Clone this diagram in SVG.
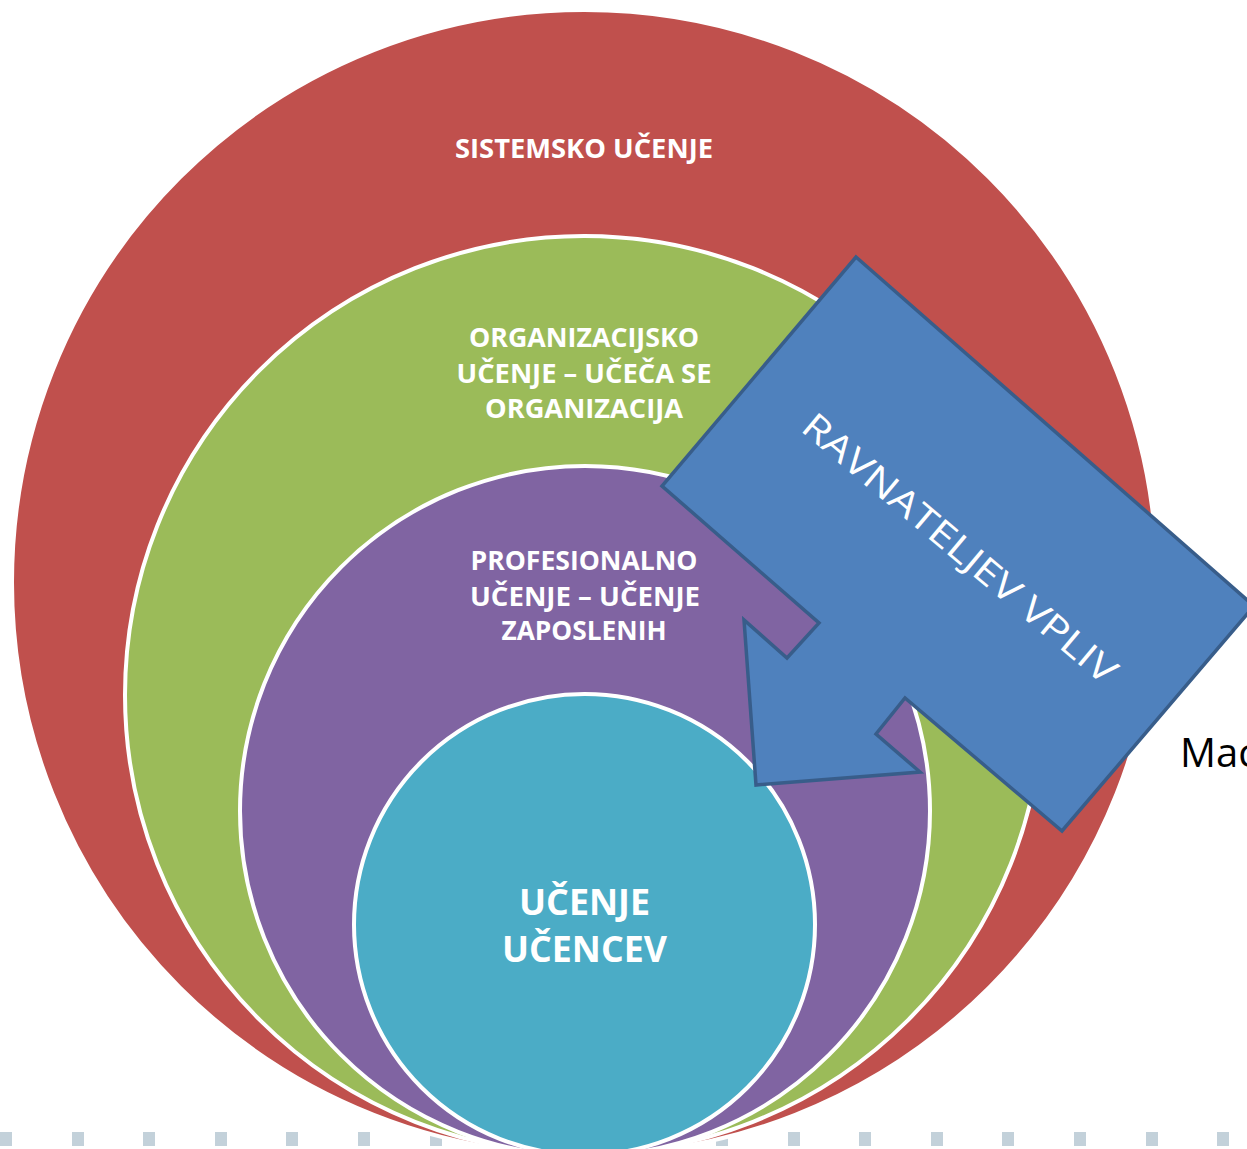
<svg xmlns="http://www.w3.org/2000/svg" width="1247" height="1149" viewBox="0 0 1247 1149">
<style>
.sq{fill:#c3d1da}
.ring{stroke:#ffffff;stroke-width:4}
.lbl{font-family:"Open Sans","Liberation Sans",sans-serif;font-weight:bold;fill:#ffffff;text-anchor:middle}
</style>
<rect width="1247" height="1149" fill="#ffffff"/>
<g id="dots">
<rect class="sq" x="0" y="1132" width="12" height="14"/>
<rect class="sq" x="72" y="1132" width="12" height="14"/>
<rect class="sq" x="143" y="1132" width="12" height="14"/>
<rect class="sq" x="215" y="1132" width="12" height="14"/>
<rect class="sq" x="286" y="1132" width="12" height="14"/>
<rect class="sq" x="358" y="1132" width="12" height="14"/>
<rect class="sq" x="430" y="1132" width="12" height="14"/>
<rect class="sq" x="716" y="1132" width="12" height="14"/>
<rect class="sq" x="788" y="1132" width="12" height="14"/>
<rect class="sq" x="859" y="1132" width="12" height="14"/>
<rect class="sq" x="931" y="1132" width="12" height="14"/>
<rect class="sq" x="1002" y="1132" width="12" height="14"/>
<rect class="sq" x="1074" y="1132" width="12" height="14"/>
<rect class="sq" x="1146" y="1132" width="12" height="14"/>
<rect class="sq" x="1217" y="1132" width="12" height="14"/>
</g>
<g id="sistemsko">
<circle class="ring" cx="584.5" cy="582.5" r="572.5" fill="#c0504d"/>
<text class="lbl" x="584" y="158" font-size="26" textLength="258" lengthAdjust="spacingAndGlyphs">SISTEMSKO UČENJE</text>
</g>
<g id="organizacijsko">
<circle class="ring" cx="584" cy="695" r="459" fill="#9bbb59"/>
<text class="lbl" x="584" y="347" font-size="26" textLength="230" lengthAdjust="spacingAndGlyphs">ORGANIZACIJSKO</text>
<text class="lbl" x="584" y="383" font-size="26" textLength="255" lengthAdjust="spacingAndGlyphs">UČENJE – UČEČA SE</text>
<text class="lbl" x="584" y="418" font-size="26" textLength="198" lengthAdjust="spacingAndGlyphs">ORGANIZACIJA</text>
</g>
<g id="profesionalno">
<circle class="ring" cx="585" cy="811" r="345" fill="#8064a2"/>
<text class="lbl" x="584" y="570" font-size="26" textLength="227" lengthAdjust="spacingAndGlyphs">PROFESIONALNO</text>
<text class="lbl" x="585" y="606" font-size="26" textLength="230" lengthAdjust="spacingAndGlyphs">UČENJE – UČENJE</text>
<text class="lbl" x="584" y="640" font-size="26" textLength="165" lengthAdjust="spacingAndGlyphs">ZAPOSLENIH</text>
</g>
<g id="ucenje-ucencev">
<circle class="ring" cx="584.5" cy="924.5" r="230.5" fill="#4bacc6"/>
<text class="lbl" x="584.5" y="915" font-size="36" textLength="131" lengthAdjust="spacingAndGlyphs">UČENJE</text>
<text class="lbl" x="584.5" y="962" font-size="36" textLength="165" lengthAdjust="spacingAndGlyphs">UČENCEV</text>
</g>
<g id="ravnateljev-vpliv">
<polygon points="856,257 1254,606 1062,831 905,698 876,734 920,772 756,785 744,620 787,658 819,623 662,486" fill="#4f81bd" stroke="#385d8a" stroke-width="3.5" stroke-linejoin="miter"/>
<text x="960" y="561" transform="rotate(40 960 548)" font-family="'Open Sans','Liberation Sans',sans-serif" font-size="36" fill="#ffffff" text-anchor="middle" textLength="398" lengthAdjust="spacingAndGlyphs">RAVNATELJEV VPLIV</text>
</g>
<g id="connectors"></g>
<text x="1180" y="767" font-family="'Open Sans','Liberation Sans',sans-serif" font-size="40" fill="#000000">Mac</text>
</svg>
